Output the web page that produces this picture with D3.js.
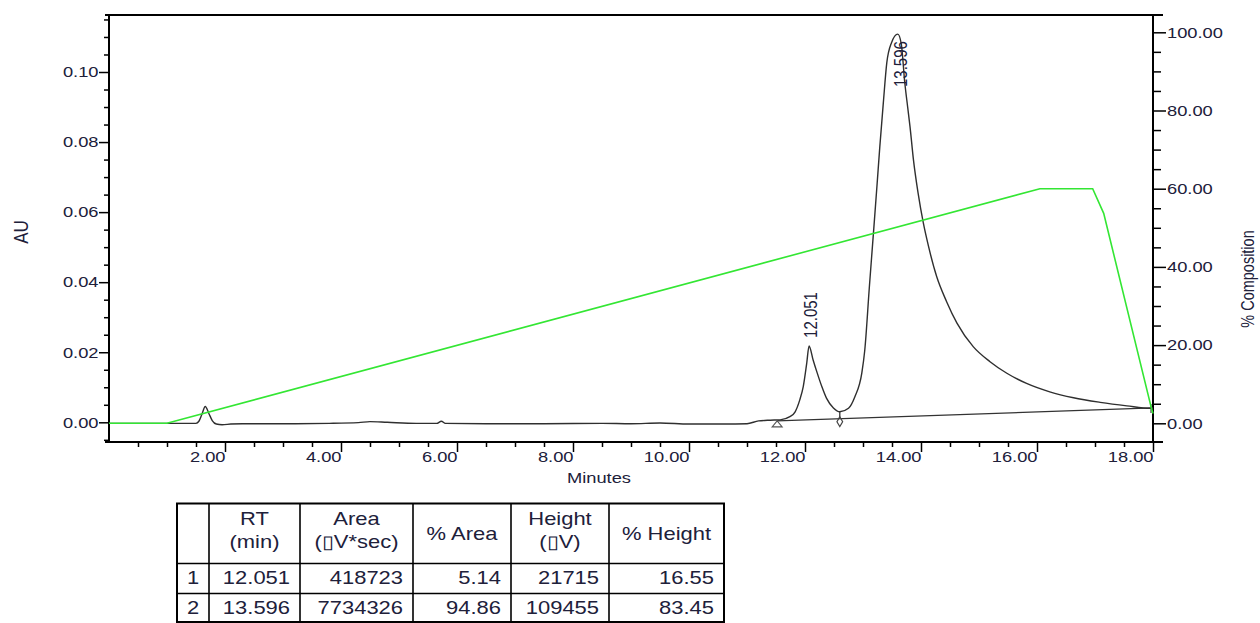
<!DOCTYPE html>
<html>
<head>
<meta charset="utf-8">
<script src="https://cdn.jsdelivr.net/npm/d3@7"></script>
<style>
body { margin: 0; background: #fff; }
svg text { font-family: "Liberation Sans", Arial, sans-serif; fill: #20203a; }
.tick-lab { font-size: 15px; }
</style>
</head>
<body>
<svg id="chart" width="1260" height="623"></svg>
<script>
//chromatogram trace (minutes / AU)
var traceT = [0, 0.5, 1.0, 1.5, 1.55, 1.6, 1.66, 1.72, 1.78, 1.85, 1.95, 2.1, 2.3, 3.0, 3.8, 4.3, 4.5, 4.8,
	5.3, 5.65, 5.73, 5.8, 6.5, 7.5, 8.5, 9.0, 9.5, 10.0, 10.6, 11.0, 11.2, 11.4, 11.57, 11.74, 11.83, 11.91,
	11.97, 12.03, 12.07, 12.14, 12.21, 12.29, 12.37, 12.49, 12.60, 12.75, 12.86, 12.98, 13.03, 13.11, 13.18,
	13.24, 13.29, 13.35, 13.41, 13.49, 13.60, 13.66, 13.72, 13.77, 13.81, 13.87, 13.95, 14.04, 14.13, 14.27,
	14.44, 14.62, 14.90, 15.19, 15.48, 15.82, 16.22, 16.63, 17.09, 17.55, 17.95, 18.0];
var traceAU = [-0.0003, -0.0003, -0.0003, -0.0003, 0.0003, 0.0022, 0.0045, 0.0026, 0.0005, -0.0005, -0.0007,
	-0.0005, -0.0004, -0.0004, -0.0003, -0.0001, 0.0002, 0.0000, -0.0003, -0.0003, 0.0003, -0.0003, -0.0004,
	-0.0004, -0.0003, -0.0004, -0.0002, -0.0005, -0.0005, -0.0004, 0.0004, 0.0006, 0.0007, 0.0016, 0.0030,
	0.0064, 0.0102, 0.0169, 0.0218, 0.0178, 0.0141, 0.0102, 0.0069, 0.0041, 0.0030, 0.0040, 0.0073, 0.0141,
	0.0205, 0.0387, 0.0540, 0.0673, 0.0787, 0.0911, 0.1026, 0.1083, 0.1108, 0.1080, 0.0970, 0.0900, 0.0845,
	0.0749, 0.0654, 0.0569, 0.0502, 0.0416, 0.0345, 0.0283, 0.0216, 0.0173, 0.0140, 0.0111, 0.0087, 0.0070,
	0.0057, 0.0047, 0.0040, 0.0040];

//gradient (% composition)
var gradT = [0, 1.0, 16.05, 16.96, 17.15, 17.97, 18.0];
var gradPct = [0, 0, 60, 60, 53.7, 4, 2.5];

//integration baseline and valley drop
var baseT = [11.52, 18.0];
var baseAU = [0.0004, 0.0041];
var valleyT = 12.60;

//peak table
var peakNo = [1, 2];
var peakRT = [12.051, 13.596];
var peakArea = [418723, 7734326];
var peakPctArea = [5.14, 94.86];
var peakHeight = [21715, 109455];
var peakPctHeight = [16.55, 83.45];

//ticks
var xMajorTicks = [2, 4, 6, 8, 10, 12, 14, 16, 18];
var yMajorTicks = [0.00, 0.02, 0.04, 0.06, 0.08, 0.10];
var pctMajorTicks = [0, 20, 40, 60, 80, 100];

var svg = d3.select("#chart");
var plotLeft = 109, plotRight = 1153, plotTop = 15, plotBottom = 442;
var sx = 1.22; // the print is stretched sideways

var x = d3.scaleLinear().domain([0, 18]).range([plotLeft, plotRight]);
var y = d3.scaleLinear().domain([0, 0.1]).range([422.3, 72]);
var yPct = d3.scaleLinear().domain([0, 100]).range([423.3, 32.3]);

function tidy(g){
	g.select(".domain").remove();
	g.selectAll("line").attr("stroke", "#000").attr("stroke-width", 1.5);
	g.selectAll("text").attr("class", "tick-lab");
}

//x axis
var xMinor = d3.range(0.5, 18, 0.5).filter(function(d){ return xMajorTicks.indexOf(d) < 0; });
svg.append("g").attr("transform", "translate(0," + plotBottom + ")")
	.call(d3.axisBottom(x).tickValues(xMinor).tickSize(5).tickFormat(""))
	.call(tidy);
var gx = svg.append("g").attr("transform", "translate(0," + plotBottom + ")")
	.call(d3.axisBottom(x).tickValues(xMajorTicks).tickSize(10).tickFormat(d3.format(".2f")))
	.call(tidy);
gx.selectAll("text").attr("text-anchor", "end").attr("x", 0).attr("y", 20).attr("dy", null)
	.attr("transform", "scale(" + sx + ",1)");

//left axis
var yMinor = d3.range(-0.005, 0.1151, 0.005).filter(function(d){
	return yMajorTicks.every(function(m){ return Math.abs(m - d) > 1e-6; }); });
svg.append("g").attr("transform", "translate(" + plotLeft + ",0)")
	.call(d3.axisLeft(y).tickValues(yMinor).tickSize(5).tickFormat(""))
	.call(tidy);
var gy = svg.append("g").attr("transform", "translate(" + plotLeft + ",0)")
	.call(d3.axisLeft(y).tickValues(yMajorTicks).tickSize(10).tickFormat(d3.format(".2f")))
	.call(tidy);
gy.selectAll("text").attr("x", -8.6).attr("transform", "scale(" + sx + ",1)");

//right axis
var pMinor = d3.range(5, 100, 5).filter(function(d){ return pctMajorTicks.indexOf(d) < 0; });
svg.append("g").attr("transform", "translate(" + plotRight + ",0)")
	.call(d3.axisRight(yPct).tickValues(pMinor).tickSize(8).tickFormat(""))
	.call(tidy);
var gp = svg.append("g").attr("transform", "translate(" + plotRight + ",0)")
	.call(d3.axisRight(yPct).tickValues(pctMajorTicks).tickSize(13).tickFormat(d3.format(".2f")))
	.call(tidy);
gp.selectAll("text").attr("x", 11.5).attr("transform", "scale(" + sx + ",1)");

//frame
var frame = svg.append("g").attr("stroke", "#000").attr("stroke-width", 2);
frame.append("line").attr("x1", plotLeft).attr("x2", plotLeft).attr("y1", plotTop).attr("y2", plotBottom);
frame.append("line").attr("x1", plotRight).attr("x2", plotRight).attr("y1", plotTop).attr("y2", plotBottom);
frame.append("line").attr("x1", plotLeft - 4).attr("x2", plotRight + 10).attr("y1", plotTop).attr("y2", plotTop);
frame.append("line").attr("x1", plotLeft - 4).attr("x2", plotRight + 10).attr("y1", plotBottom).attr("y2", plotBottom);

//axis titles
svg.append("text").text("Minutes").attr("x", 599).attr("y", 483)
	.attr("text-anchor", "middle").style("font-size", "15px")
	.attr("transform", "translate(599,0) scale(" + sx + ",1) translate(-599,0)");
svg.append("text").text("AU").attr("text-anchor", "middle").attr("dy", "0.35em")
	.style("font-size", "17px")
	.attr("transform", "translate(21,232) scale(" + sx + ",1) rotate(-90)");
svg.append("text").text("% Composition").attr("text-anchor", "middle").attr("dy", "0.35em")
	.style("font-size", "14.5px")
	.attr("transform", "translate(1248,279) scale(" + sx + ",1) rotate(-90)");

//trace
var trace = traceT.map(function(t, i){ return {t: t, v: traceAU[i]}; });
var line = d3.line()
	.x(function(d){ return x(d.t); })
	.y(function(d){ return y(d.v); })
	.curve(d3.curveMonotoneX);

//baseline
var bline = d3.line()
	.x(function(d, i){ return x(baseT[i]); })
	.y(function(d, i){ return y(baseAU[i]); });
svg.append("path").attr("d", bline(baseT)).attr("fill", "none")
	.attr("stroke", "#333").attr("stroke-width", 1.3);

function baseAt(t){
	return baseAU[0] + (t - baseT[0]) / (baseT[1] - baseT[0]) * (baseAU[1] - baseAU[0]);
}
function traceAt(t){
	var i = d3.bisector(function(d){ return d.t; }).left(trace, t);
	if (i <= 0) return trace[0].v;
	var a = trace[i - 1], b = trace[i];
	return a.v + (t - a.t) / (b.t - a.t) * (b.v - a.v);
}

svg.append("path").attr("d", line(trace)).attr("fill", "none")
	.attr("stroke", "#2f2f2f").attr("stroke-width", 1.4);

//markers: start triangle, valley drop + diamond, end tick
var bx = x(baseT[0]), by = y(baseAU[0]);
svg.append("path")
	.attr("d", "M" + bx + "," + by + "L" + (bx - 5) + "," + (by + 6) + "L" + (bx + 5) + "," + (by + 6) + "Z")
	.attr("fill", "none").attr("stroke", "#555").attr("stroke-width", 1.1);
var vx = x(valleyT), vyTop = y(traceAt(valleyT)), vyBase = y(baseAt(valleyT));
svg.append("line").attr("x1", vx).attr("x2", vx).attr("y1", vyTop).attr("y2", vyBase)
	.attr("stroke", "#333").attr("stroke-width", 1.3);
svg.append("path").attr("d", d3.symbol().type(d3.symbolDiamond).size(28)())
	.attr("transform", "translate(" + vx + "," + (vyBase + 3) + ")")
	.attr("fill", "none").attr("stroke", "#444").attr("stroke-width", 1.2);
var ex = x(baseT[1]) - 2, ey = y(baseAU[1]);
svg.append("line").attr("x1", ex).attr("x2", ex).attr("y1", ey - 4).attr("y2", ey + 5)
	.attr("stroke", "#444").attr("stroke-width", 1.2);

//gradient
var gline = d3.line()
	.x(function(d, i){ return x(gradT[i]); })
	.y(function(d, i){ return yPct(gradPct[i]); });
svg.append("path").attr("d", gline(gradT)).attr("fill", "none")
	.attr("stroke", "#33e633").attr("stroke-width", 1.6);

//peak labels
peakRT.forEach(function(rt){
	var near = trace.filter(function(d){ return Math.abs(d.t - rt) < 0.12; });
	var apex = d3.max(near, function(d){ return d.v; });
	var ly = Math.max(y(apex) - 8, plotTop + 72);
	svg.append("text").text(rt.toFixed(3))
		.attr("text-anchor", "start").attr("dy", "0.35em").style("font-size", "15px")
		.attr("transform", "translate(" + (x(rt) + 3) + "," + ly + ") scale(" + sx + ",1) rotate(-90)");
});

//peak table
var colX = [177, 209, 300, 413, 511, 609, 724];
var rowY = [503.5, 563.5, 593.5, 622];
var tbl = svg.append("g");
tbl.append("rect").attr("x", colX[0]).attr("y", rowY[0])
	.attr("width", colX[6] - colX[0]).attr("height", rowY[3] - rowY[0])
	.attr("fill", "none").attr("stroke", "#000").attr("stroke-width", 2);
colX.slice(1, 6).forEach(function(cx){
	tbl.append("line").attr("x1", cx).attr("x2", cx).attr("y1", rowY[0]).attr("y2", rowY[3])
		.attr("stroke", "#000").attr("stroke-width", 1.6);
});
rowY.slice(1, 3).forEach(function(ry){
	tbl.append("line").attr("x1", colX[0]).attr("x2", colX[6]).attr("y1", ry).attr("y2", ry)
		.attr("stroke", "#000").attr("stroke-width", 1.6);
});

var headers = [[""], ["RT", "(min)"], ["Area", "(\u25AFV*sec)"], ["% Area"], ["Height", "(\u25AFV)"], ["% Height"]];
function tText(str, tx, ty, anchor){
	tbl.append("text").text(str).attr("text-anchor", anchor).style("font-size", "18px")
		.attr("transform", "translate(" + tx + "," + ty + ") scale(" + sx + ",1)");
}
headers.forEach(function(h, c){
	var cx = (colX[c] + colX[c + 1]) / 2;
	if (h.length === 2){
		tText(h[0], cx, 525, "middle");
		tText(h[1], cx, 548, "middle");
	} else if (h[0]) {
		tText(h[0], cx, 540, "middle");
	}
});
var fmt2 = d3.format(".2f");
peakRT.forEach(function(rt, i){
	var ty = i === 0 ? 584 : 614;
	tText(String(peakNo[i]), (colX[0] + colX[1]) / 2, ty, "middle");
	var cells = [rt.toFixed(3), String(peakArea[i]), fmt2(peakPctArea[i]), String(peakHeight[i]), fmt2(peakPctHeight[i])];
	cells.forEach(function(s, c){ tText(s, colX[c + 2] - 10, ty, "end"); });
});
</script>
</body>
</html>
